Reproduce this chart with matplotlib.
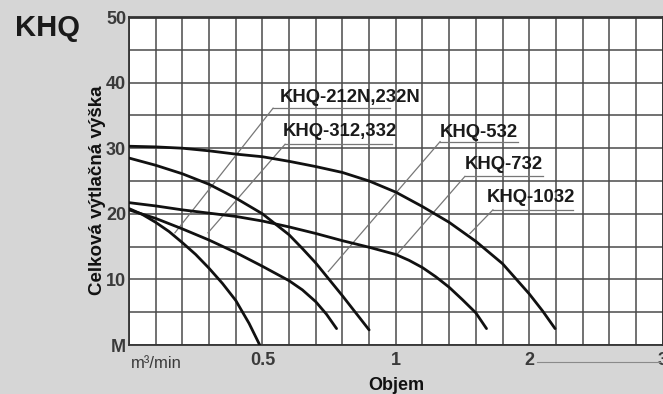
import numpy as np
import matplotlib
matplotlib.use("Agg")
import matplotlib.pyplot as plt
from matplotlib.lines import Line2D

plt.rcParams['font.family'] = ['Liberation Sans', 'DejaVu Sans']

# ---- data (x in m3/min, y in m) ----
x_breaks = [0, 0.5, 1, 2, 3]          # axis label values (piecewise scale)
x_cells = [0, 5, 10, 15, 20]          # grid-cell positions of those values

khq212_x = [0, 0.05, 0.1, 0.15, 0.2, 0.25, 0.3, 0.35, 0.4, 0.45, 0.49]
khq212_y = [20.8, 19.9, 18.7, 17.3, 15.6, 13.8, 11.7, 9.4, 6.8, 3.3, 0.0]

khq312_x = [0, 0.1, 0.2, 0.3, 0.4, 0.5, 0.6, 0.65, 0.7, 0.74, 0.778]
khq312_y = [20.6, 19.3, 17.7, 16.0, 14.1, 12.0, 9.8, 8.4, 6.6, 4.7, 2.5]

khq532_x = [0, 0.1, 0.2, 0.3, 0.4, 0.5, 0.6, 0.65, 0.7, 0.75, 0.8, 0.85, 0.9]
khq532_y = [28.5, 27.4, 26.1, 24.5, 22.4, 20.0, 16.8, 14.7, 12.5, 10.0, 7.5, 4.9, 2.3]

khq732_x = [0, 0.1, 0.2, 0.3, 0.4, 0.5, 0.6, 0.7, 0.8, 0.9, 1.0,
            1.1, 1.2, 1.3, 1.4, 1.5, 1.6, 1.68]
khq732_y = [21.7, 21.2, 20.6, 20.1, 19.6, 18.9, 18.0, 17.0, 15.9, 14.9, 13.8,
            12.9, 11.8, 10.4, 8.8, 6.9, 4.9, 2.5]

khq1032_x = [0, 0.1, 0.2, 0.3, 0.4, 0.5, 0.6, 0.7, 0.8, 0.9, 1.0,
             1.2, 1.4, 1.6, 1.8, 2.0, 2.1, 2.194]
khq1032_y = [30.3, 30.2, 30.0, 29.6, 29.1, 28.7, 28.0, 27.2, 26.3, 25.0, 23.3,
             21.1, 18.7, 15.8, 12.4, 7.8, 5.2, 2.5]

curves = [(khq212_x, khq212_y), (khq312_x, khq312_y), (khq532_x, khq532_y),
          (khq732_x, khq732_y), (khq1032_x, khq1032_y)]

# labels: text, text pos (x,y), underline y, underline x-range, leader end (x,y)
labels = ["KHQ-212N,232N", "KHQ-312,332", "KHQ-532", "KHQ-732", "KHQ-1032"]
label_pos = [(0.566, 37.8), (0.577, 32.6), (1.332, 32.4), (1.518, 27.5), (1.684, 22.5)]
underline_y = [36.1, 30.6, 31.0, 25.7, 20.6]
underline_x = [(0.54, 0.978), (0.585, 0.986), (1.332, 1.916), (1.518, 2.104), (1.728, 2.328)]
leader_end = [(0.172, 17.1), (0.296, 17.1), (0.747, 11.2), (1.008, 13.8), (1.556, 17.0)]

x_tick_vals = [0.5, 1, 2, 3]
x_tick_labels = ["0.5", "1", "2", "3"]
y_tick_vals = [0, 10, 20, 30, 40, 50]
y_tick_labels = ["M", "10", "20", "30", "40", "50"]


def fwd(x):
    return np.interp(x, x_breaks, x_cells)


def inv(c):
    return np.interp(c, x_cells, x_breaks)


W, H = 663, 394
fig = plt.figure(figsize=(W / 100, H / 100), dpi=100)
fig.patch.set_facecolor('#d6d6d6')

left, right, top, bottom = 129, 662.6, 17, 345
ax = fig.add_axes([left / W, 1 - bottom / H, (right - left) / W, (bottom - top) / H])
ax.set_facecolor('white')
ax.set_xscale('function', functions=(fwd, inv))
ax.set_xlim(0, 3)
ax.set_ylim(0, 50)

# grid
ax.xaxis.remove_overlapping_locs = False
ax.yaxis.remove_overlapping_locs = False
ax.set_xticks(inv(np.arange(21)), minor=True)
ax.set_yticks(np.arange(0, 51, 5), minor=True)
ax.grid(which='minor', color='#4a4a4a', linewidth=1.1)
ax.set_axisbelow(True)

ax.set_xticks(x_tick_vals)
ax.set_xticklabels(x_tick_labels)
ax.set_yticks(y_tick_vals)
ax.set_yticklabels(y_tick_labels)
ax.tick_params(which='both', length=0)
ax.tick_params(axis='x', pad=5, labelsize=13, labelcolor='#3a3a3a')
ax.tick_params(axis='y', pad=2, labelsize=13, labelcolor='#3a3a3a')
for t in ax.get_xticklabels() + ax.get_yticklabels():
    t.set_fontweight('bold')

for s in ax.spines.values():
    s.set_color('#333333')
    s.set_linewidth(1.3)
ax.spines['top'].set_linewidth(2)

# curves
for cx, cy in curves:
    ax.plot(cx, cy, color='#111111', linewidth=2.0, solid_capstyle='round',
            solid_joinstyle='round', zorder=3)

# labels and leaders
for txt, (tx, ty), uy, (ux0, ux1), (ex, ey) in zip(labels, label_pos, underline_y, underline_x, leader_end):
    ax.text(tx, ty, txt, fontsize=13.3, fontweight='bold', color='#1a1a1a',
            ha='left', va='center', zorder=4)
    ax.plot([ux0, ux1], [uy, uy], color='#777777', linewidth=0.9, zorder=2)
    ax.plot([ux0, ex], [uy, ey], color='#777777', linewidth=0.9, zorder=2)

ax.text(0.003, -0.035, "m³/min", transform=ax.transAxes, fontsize=12, color='#3a3a3a',
        ha='left', va='top')

fig.text(15 / W, 1 - 28 / H, "KHQ", fontsize=21, fontweight='bold', color='#1a1a1a',
         ha='left', va='center')
fig.text(98 / W, 1 - 190 / H, "Celková výtlačná výška", fontsize=13.5, fontweight='bold',
         rotation=90, ha='center', va='center', color='#111111')
fig.text(396 / W, 1 - 385 / H, "Objem", fontsize=13, fontweight='bold',
         ha='center', va='center', color='#111111')

# faint scan line under the right part of the axis labels
fig.add_artist(Line2D([537 / W, 660 / W], [1 - 362 / H, 1 - 362 / H],
                      color='#8a8a8a', linewidth=0.8))

fig.savefig("out.png", dpi=100, facecolor=fig.get_facecolor())
